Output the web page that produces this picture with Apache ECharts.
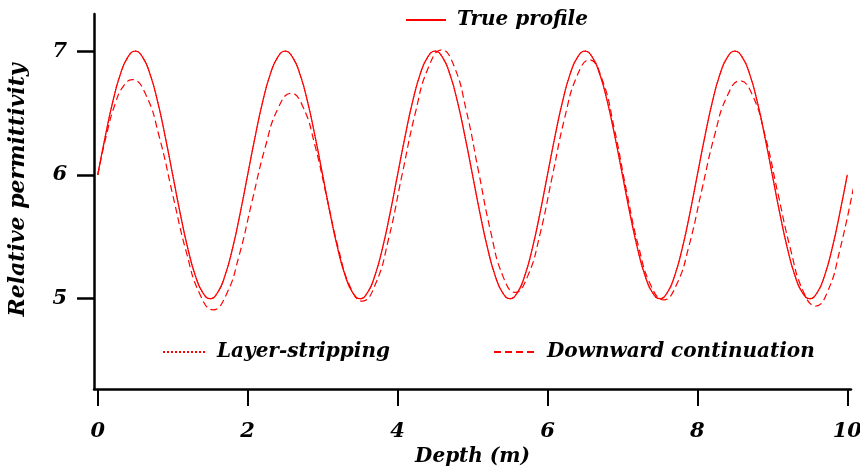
<!DOCTYPE html>
<html>
<head>
<meta charset="utf-8">
<script src="https://cdn.jsdelivr.net/npm/echarts@6/dist/echarts.min.js"></script>
<style>
html,body{margin:0;padding:0;background:#fff;}
#chart{width:860px;height:474px;}
</style>
</head>
<body>
<div id="chart"></div>
<script>
// ---- Data ----
const seriesNames = ['True profile', 'Layer-stripping', 'Downward continuation'];
const xTickValues = [0, 2, 4, 6, 8, 10];
const yTickValues = [5, 6, 7];

// depth sample points (m) for the true profile and layer-stripping
const depthTrue = [
  0.0,0.1,0.2,0.3,0.4,0.5,0.6,0.7,0.8,0.9,
  1.0,1.1,1.2,1.3,1.4,1.5,1.6,1.7,1.8,1.9,
  2.0,2.1,2.2,2.3,2.4,2.5,2.6,2.7,2.8,2.9,
  3.0,3.1,3.2,3.3,3.4,3.5,3.6,3.7,3.8,3.9,
  4.0,4.1,4.2,4.3,4.4,4.5,4.6,4.7,4.8,4.9,
  5.0,5.1,5.2,5.3,5.4,5.5,5.6,5.7,5.8,5.9,
  6.0,6.1,6.2,6.3,6.4,6.5,6.6,6.7,6.8,6.9,
  7.0,7.1,7.2,7.3,7.4,7.5,7.6,7.7,7.8,7.9,
  8.0,8.1,8.2,8.3,8.4,8.5,8.6,8.7,8.8,8.9,
  9.0,9.1,9.2,9.3,9.4,9.5,9.6,9.7,9.8,9.9,
  10.0
];
const trueProfile = [
  6.00,6.31,6.59,6.81,6.95,7.00,6.95,6.81,6.59,6.31,
  6.00,5.69,5.41,5.19,5.05,5.00,5.05,5.19,5.41,5.69,
  6.00,6.31,6.59,6.81,6.95,7.00,6.95,6.81,6.59,6.31,
  6.00,5.69,5.41,5.19,5.05,5.00,5.05,5.19,5.41,5.69,
  6.00,6.31,6.59,6.81,6.95,7.00,6.95,6.81,6.59,6.31,
  6.00,5.69,5.41,5.19,5.05,5.00,5.05,5.19,5.41,5.69,
  6.00,6.31,6.59,6.81,6.95,7.00,6.95,6.81,6.59,6.31,
  6.00,5.69,5.41,5.19,5.05,5.00,5.05,5.19,5.41,5.69,
  6.00,6.31,6.59,6.81,6.95,7.00,6.95,6.81,6.59,6.31,
  6.00,5.69,5.41,5.19,5.05,5.00,5.05,5.19,5.41,5.69,
  6.00
];
// layer-stripping result lies on top of the true profile in the picture
const layerStripping = [
  6.00,6.31,6.59,6.81,6.95,7.00,6.95,6.81,6.59,6.31,
  6.00,5.69,5.41,5.19,5.05,5.00,5.05,5.19,5.41,5.69,
  6.00,6.31,6.59,6.81,6.95,7.00,6.95,6.81,6.59,6.31,
  6.00,5.69,5.41,5.19,5.05,5.00,5.05,5.19,5.41,5.69,
  6.00,6.31,6.59,6.81,6.95,7.00,6.95,6.81,6.59,6.31,
  6.00,5.69,5.41,5.19,5.05,5.00,5.05,5.19,5.41,5.69,
  6.00,6.31,6.59,6.81,6.95,7.00,6.95,6.81,6.59,6.31,
  6.00,5.69,5.41,5.19,5.05,5.00,5.05,5.19,5.41,5.69,
  6.00,6.31,6.59,6.81,6.95,7.00,6.95,6.81,6.59,6.31,
  6.00,5.69,5.41,5.19,5.05,5.00,5.05,5.19,5.41,5.69,
  6.00
];

// downward continuation: its own depth samples and values
const depthDownward = [
  0.000,0.115,0.230,0.345,0.460,
  0.640,0.820,1.000,1.180,1.360,1.540,
  1.713,1.887,2.060,2.233,2.407,2.580,
  2.738,2.897,3.055,3.213,3.372,3.530,
  3.707,3.883,4.060,4.237,4.413,4.590,
  4.753,4.917,5.080,5.243,5.407,5.570,
  5.735,5.900,6.065,6.230,6.395,6.560,
  6.725,6.890,7.055,7.220,7.385,7.550,
  7.720,7.890,8.060,8.230,8.400,8.570,
  8.738,8.907,9.075,9.243,9.412,9.580,
  9.740,9.900,10.080
];
const downwardContinuation = [
  6.00,6.32,6.57,6.72,6.77,
  6.65,6.31,5.84,5.38,5.04,4.91,
  5.03,5.35,5.79,6.22,6.54,6.66,
  6.55,6.24,5.82,5.40,5.09,4.98,
  5.12,5.49,6.00,6.50,6.87,7.01,
  6.88,6.52,6.03,5.54,5.18,5.05,
  5.18,5.52,5.99,6.46,6.80,6.93,
  6.78,6.38,5.87,5.41,5.10,4.99,
  5.11,5.43,5.88,6.32,6.64,6.76,
  6.64,6.31,5.85,5.40,5.06,4.94,
  5.06,5.39,5.89
];

const pair = (xs, ys) => xs.map((x, i) => [x, ys[i]]);

const FONT = 'DejaVu Serif';
const RED = '#ff0000';
const txt = { fontFamily: FONT, fontStyle: 'italic', fontWeight: 'bold', color: '#000' };

const chart = echarts.init(document.getElementById('chart'), null, { renderer: 'canvas' });

const legendBase = {
  orient: 'horizontal',
  selectedMode: false,
  padding: 0,
  itemHeight: 12,
  itemStyle: { opacity: 0 },
  textStyle: Object.assign({ fontSize: 20, padding: [0, 0, 0, 6] }, txt)
};

chart.setOption({
  animation: false,
  backgroundColor: '#fff',
  grid: { left: 94, right: 9, top: 14, bottom: 85, containLabel: false, outerBoundsMode: 'none' },
  legend: [
    Object.assign({}, legendBase, { data: [seriesNames[0]], left: 405, top: 10, itemWidth: 40 }),
    Object.assign({}, legendBase, { data: [seriesNames[1]], left: 162, top: 342, itemWidth: 43 }),
    Object.assign({}, legendBase, { data: [seriesNames[2]], left: 493, top: 342, itemWidth: 42 })
  ],
  xAxis: {
    type: 'value',
    min: -0.05,
    max: 10.05,
    name: 'Depth (m)',
    nameLocation: 'middle',
    nameGap: 57,
    nameTextStyle: Object.assign({ fontSize: 20 }, txt),
    splitLine: { show: false },
    axisLine: { show: true, onZero: false, lineStyle: { color: '#000', width: 2.5 } },
    axisTick: { show: true, length: 17, lineStyle: { color: '#000', width: 2 }, customValues: xTickValues },
    axisLabel: Object.assign({ fontSize: 21, margin: 32, customValues: xTickValues }, txt)
  },
  yAxis: {
    type: 'value',
    min: 4.27,
    max: 7.30,
    splitLine: { show: false },
    axisLine: { show: true, onZero: false, lineStyle: { color: '#000', width: 2.5 } },
    axisTick: { show: true, length: 17, lineStyle: { color: '#000', width: 2.5 }, customValues: yTickValues },
    axisLabel: Object.assign({ fontSize: 21, margin: 27, customValues: yTickValues }, txt)
  },
  graphic: [{
    type: 'text',
    x: 18,
    y: 190,
    rotation: Math.PI / 2,
    style: {
      text: 'Relative permittivity',
      font: 'italic bold 22px "' + FONT + '"',
      fill: '#000',
      align: 'center',
      verticalAlign: 'middle'
    }
  }],
  series: [
    {
      name: seriesNames[1],
      type: 'line',
      data: pair(depthTrue, layerStripping),
      symbol: 'none',
      smooth: true,
      clip: false,
      z: 1,
      lineStyle: { color: RED, width: 1.2, type: 'dotted' },
      itemStyle: { color: RED }
    },
    {
      name: seriesNames[2],
      type: 'line',
      data: pair(depthDownward, downwardContinuation),
      symbol: 'none',
      smooth: true,
      clip: false,
      z: 2,
      lineStyle: { color: RED, width: 1.2, type: [7, 4] },
      itemStyle: { color: RED }
    },
    {
      name: seriesNames[0],
      type: 'line',
      data: pair(depthTrue, trueProfile),
      symbol: 'none',
      smooth: true,
      clip: false,
      z: 3,
      lineStyle: { color: RED, width: 1.2, type: 'solid' },
      itemStyle: { color: RED }
    }
  ]
});
</script>
</body>
</html>
